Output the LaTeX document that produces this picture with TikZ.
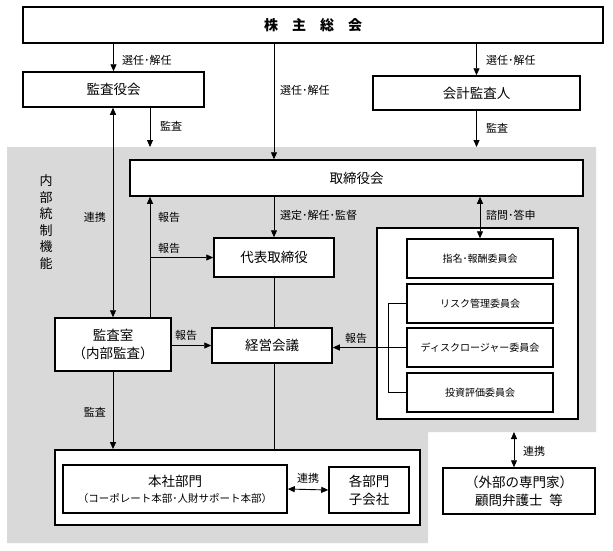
\documentclass[tikz,border=0pt]{standalone}
\usepackage{fontspec}
\setmainfont{Noto Sans CJK JP}
\usetikzlibrary{arrows.meta}
\definecolor{ctrlgray}{RGB}{217,217,217}
\begin{document}
\begin{tikzpicture}[x=1pt,y=-1pt]
			\tikzstyle{every node}+=[inner sep=0pt]
			\tikzstyle{box}=[draw=black, line width=1.5pt, fill=white, align=center, font=\fontsize{13.5}{18}\selectfont]
			\tikzstyle{cbox}=[box, font=\fontsize{10}{12}\selectfont, minimum width=146pt, minimum height=39pt]
			\tikzstyle{lbl}=[font=\fontsize{11}{13}\selectfont]
			\tikzstyle{arr}=[-{Triangle[length=7pt,width=6pt]}, line width=0.9pt]
			\tikzstyle{darr}=[{Triangle[length=7pt,width=6pt]}-{Triangle[length=7pt,width=6pt]}, line width=0.9pt]
			\useasboundingbox (0,0) rectangle (613,550);
			\fill [ctrlgray] (7,147) -- (596,147) -- (596,432) -- (428,432) -- (428,543) -- (7,543) -- cycle;
			\coordinate (kansaA) at (150,147);
			\coordinate (kaikeiA) at (476,147);
			\coordinate (renkeiA) at (514,432);
			\node [box, minimum width=580pt, minimum height=36pt, font=\fontsize{14}{16}\selectfont\bfseries] (sh) at (313,25) {株\hspace{1em}主\hspace{1em}総\hspace{1em}会};
			\node [box, minimum width=181pt, minimum height=35pt] (kansa) at (113.5,89.5) {監査役会};
			\node [box, minimum width=207pt, minimum height=34pt] (kaikei) at (476.5,93) {会計監査人};
			\node [box, minimum width=453pt, minimum height=36pt] (torishimari) at (356.5,178) {取締役会};
			\node [box, minimum width=120pt, minimum height=39pt] (daihyo) at (274,257.5) {代表取締役};
			\node [box, minimum width=120pt, minimum height=35pt] (keiei) at (272,345.5) {経営会議};
			\node [box, minimum width=116pt, minimum height=53pt] (kansashitsu) at (113,344.5) {監査室\\（内部監査）};
			\node [box, line width=1.8pt, minimum width=201pt, minimum height=191pt] (iinkai) at (477.5,323.5) {};
			\node [cbox] (shimei) at (480,258.5) {指名･報酬委員会};
			\node [cbox] (risk) at (480,303.5) {リスク管理委員会};
			\node [cbox] (disc) at (480,347.5) {ディスクロージャー委員会};
			\node [cbox] (toshi) at (480,392.5) {投資評価委員会};
			\node [box, line width=1.8pt, minimum width=365pt, minimum height=75pt] (group) at (237.5,487.5) {};
			\node [box, minimum width=224pt, minimum height=48pt] (honsha) at (175,489) {本社部門\\[-2pt]{\fontsize{10.5}{12}\selectfont （コーポレート本部･人財サポート本部）}};
			\node [box, minimum width=80pt, minimum height=46pt] (kakubu) at (369,490) {各部門\\子会社};
			\node [box, minimum width=152pt, minimum height=46pt] (bengoshi) at (519,491) {（外部の専門家）\\顧問弁護士\hspace{0.5em}等};
			\node [align=center, font=\fontsize{13}{16.6}\selectfont] (naibu) at (46,222) {内\\部\\統\\制\\機\\能};
			\draw [arr] (kansa.north |- sh.south) -- (kansa.north);
			\node [lbl, anchor=west] (l1) at (122,60) {選任･解任};
			\draw [arr] (kaikei.north |- sh.south) -- (kaikei.north);
			\node [lbl, anchor=west] (l2) at (486,60) {選任･解任};
			\draw [arr] (daihyo.north |- sh.south) -- (daihyo.north |- torishimari.north);
			\node [lbl, anchor=west] (l3) at (280,90) {選任･解任};
			\draw [arr] (kansa.south -| kansaA) -- (kansaA);
			\node [lbl, anchor=west] (l4) at (160,126) {監査};
			\draw [arr] (kaikei.south) -- (kaikei.south |- kaikeiA);
			\node [lbl, anchor=west] (l5) at (486,128) {監査};
			\draw [darr] (kansashitsu.north) -- (kansashitsu.north |- kansa.south);
			\node [lbl, anchor=east] (l6) at (106,217) {連携};
			\draw [arr] (kansashitsu.north -| kansaA) -- (torishimari.south -| kansaA);
			\node [lbl, anchor=west] (l7) at (158,217) {報告};
			\draw [arr] (kansaA |- daihyo.west) -- (daihyo.west);
			\node [lbl, anchor=west] (l8) at (158,248) {報告};
			\draw [arr] (daihyo.north |- torishimari.south) -- (daihyo.north);
			\node [lbl, anchor=west] (l9) at (280,215) {選定･解任･監督};
			\draw [line width=0.9pt] (daihyo.south) -- (daihyo.south |- keiei.north);
			\draw [arr] (kansashitsu.east |- keiei.west) -- (keiei.west);
			\node [lbl, anchor=west] (l10) at (175,335) {報告};
			\draw [arr] (kansashitsu.south) -- (kansashitsu.south |- group.north);
			\node [lbl, anchor=east] (l11) at (106,412) {監査};
			\draw [line width=0.9pt] (daihyo.south |- keiei.south) -- (daihyo.south |- group.north);
			\draw [darr] (shimei.north) -- (shimei.north |- torishimari.south);
			\node [lbl, anchor=west] (l12) at (486,215) {諮問･答申};
			\draw [line width=0.9pt] (risk.west) -- ++(-18,0) |- (toshi.west);
			\draw [arr] (disc.west) -- (keiei.east |- disc.west);
			\node [lbl, anchor=west] (l13) at (345,338) {報告};
			\draw [darr] (honsha.east) -- (kakubu.west);
			\node [lbl] (l14) at (308,478) {連携};
			\draw [darr] (bengoshi.north -| renkeiA) -- (renkeiA);
			\node [lbl, anchor=west] (l15) at (523,451) {連携};
\end{tikzpicture}
\end{document}
